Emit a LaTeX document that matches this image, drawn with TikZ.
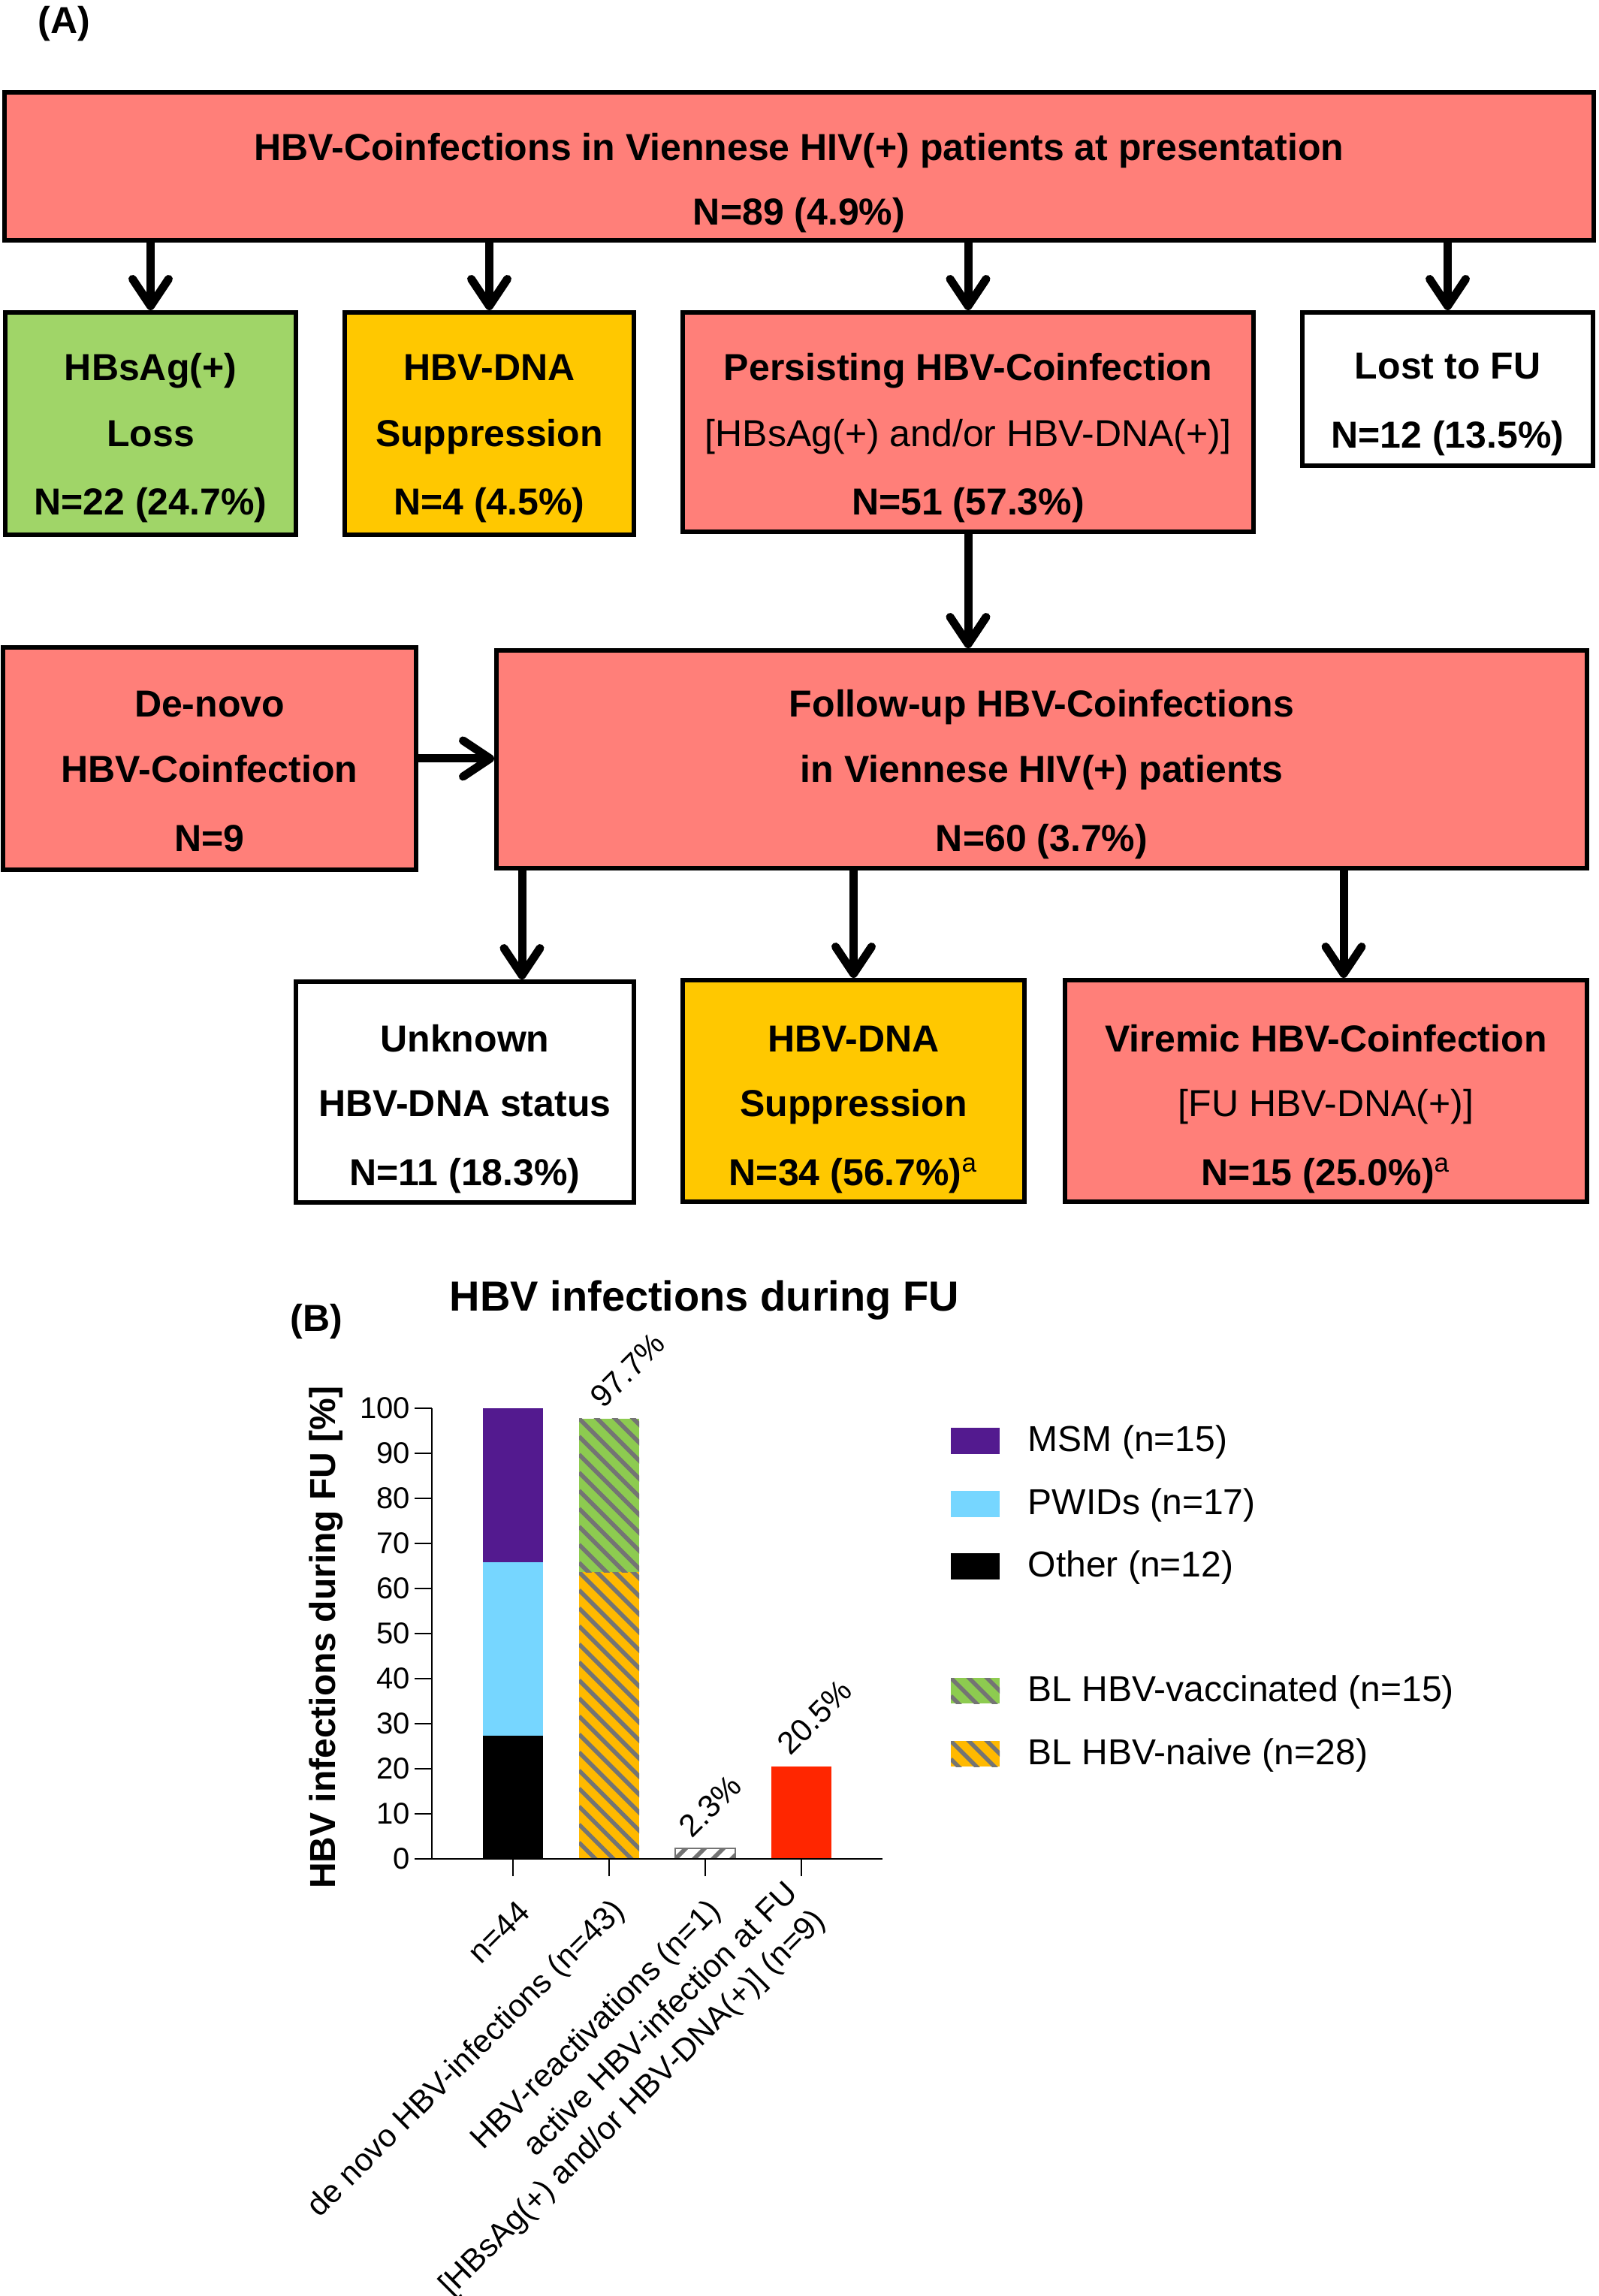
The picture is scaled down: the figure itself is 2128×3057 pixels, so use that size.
\documentclass[tikz,border=0pt]{standalone}
\usepackage{fontspec}
\setmainfont{Liberation Sans}
\usetikzlibrary{arrows.meta}
\definecolor{boxred}{HTML}{FF7F79}
\definecolor{boxgreen}{HTML}{A0D568}
\definecolor{boxyellow}{HTML}{FFC800}
\definecolor{msm}{HTML}{531A8F}
\definecolor{pwid}{HTML}{76D6FF}
\definecolor{vacc}{HTML}{8DCB50}
\definecolor{naive}{HTML}{FFB900}
\definecolor{barred}{HTML}{FF2600}
\definecolor{hatchgray}{HTML}{747474}
\newcommand\hatchdown[5]{%
  \begin{scope}
  \clip (#1,#2) rectangle (#3,#4);
  \fill[#5] (#1,#2) rectangle (#3,#4);
  \foreach \k in {-12,...,30} \draw[hatchgray, line width=1.4pt] (#1,{#2+\k*24}) -- ++(300,300);
  \end{scope}}
\begin{document}
\begin{tikzpicture}[x=0.25pt,y=-0.25pt,
  box/.style={draw=black, line width=1.5pt, inner sep=0pt},
  bt/.style={anchor=base, inner sep=0pt, font=\fontsize{12.5}{15}\selectfont\bfseries},
  rt/.style={anchor=base, inner sep=0pt, font=\fontsize{12.5}{15}\selectfont},
  arr/.style={line width=2.75pt, -{Straight Barb[length=9pt,width=12pt,round]}},
  panel/.style={anchor=west, inner sep=0pt, font=\fontsize{12.5}{15}\selectfont\bfseries},
  axline/.style={line width=0.6pt},
  ticklab/.style={anchor=east, inner sep=0pt, font=\fontsize{10}{12}\selectfont},
  pct/.style={rotate=45, anchor=south west, inner sep=0pt, font=\fontsize{10.5}{12}\selectfont},
  xlab/.style={rotate=45, anchor=east, align=right, inner sep=0pt, font=\fontsize{10.6}{13}\selectfont},
  legtext/.style={anchor=west, inner sep=0pt, font=\fontsize{12}{14}\selectfont}]
\useasboundingbox (0,0) rectangle (2128,3057);

% ---------------- Panel A ----------------
\node[panel] (labA) at (50,32) {(A)};

\node[box, fill=boxred, minimum width=529pt, minimum height=49.25pt] (top) at (1064,221.5) {};
\node[bt] (top1) at (1064,214) {HBV-Coinfections in Viennese HIV(+) patients at presentation};
\node[bt] (top2) at (1064,300) {N=89 (4.9\%)};

\node[box, fill=boxgreen, minimum width=96.75pt, minimum height=74pt] (hbs) at (200.5,564) {};
\node[bt] (hbs1) at (200.5,507) {HBsAg(+)};
\node[bt] (hbs2) at (200.5,595) {Loss};
\node[bt] (hbs3) at (200.5,686) {N=22 (24.7\%)};

\node[box, fill=boxyellow, minimum width=96.25pt, minimum height=74pt] (supA) at (651.5,564) {};
\node[bt] (supA1) at (651.5,507) {HBV-DNA};
\node[bt] (supA2) at (651.5,595) {Suppression};
\node[bt] (supA3) at (651.5,686) {N=4 (4.5\%)};

\node[box, fill=boxred, minimum width=190pt, minimum height=73pt] (pers) at (1289,562) {};
\node[bt] (pers1) at (1289,507) {Persisting HBV-Coinfection};
\node[rt] (pers2) at (1289,595) {[HBsAg(+) and/or HBV-DNA(+)]};
\node[bt] (pers3) at (1289,686) {N=51 (57.3\%)};

\node[box, fill=white, minimum width=96.75pt, minimum height=51pt] (lost) at (1927.5,518) {};
\node[bt] (lost1) at (1927.5,505) {Lost to FU};
\node[bt] (lost2) at (1927.5,597) {N=12 (13.5\%)};

\node[box, fill=boxred, minimum width=137.5pt, minimum height=74pt] (denovo) at (279,1010) {};
\node[bt] (den1) at (279,955) {De-novo};
\node[bt] (den2) at (279,1042) {HBV-Coinfection};
\node[bt] (den3) at (279,1134) {N=9};

\node[box, fill=boxred, minimum width=363pt, minimum height=72.5pt] (fu) at (1387,1011) {};
\node[bt] (fu1) at (1387,955) {Follow-up HBV-Coinfections};
\node[bt] (fu2) at (1387,1042) {in Viennese HIV(+) patients};
\node[bt] (fu3) at (1387,1134) {N=60 (3.7\%)};

\node[box, fill=white, minimum width=112.5pt, minimum height=73.5pt] (unk) at (619,1454) {};
\node[bt] (unk1) at (619,1400) {Unknown};
\node[bt] (unk2) at (619,1486) {HBV-DNA status};
\node[bt] (unk3) at (619,1578) {N=11 (18.3\%)};

\node[box, fill=boxyellow, minimum width=113.75pt, minimum height=73.75pt] (supB) at (1136.5,1452.5) {};
\node[bt] (supB1) at (1136.5,1400) {HBV-DNA};
\node[bt] (supB2) at (1136.5,1486) {Suppression};
\node[bt] (supB3) at (1136.5,1578) {N=34 (56.7\%)\textsuperscript{\mdseries a}};

\node[box, fill=boxred, minimum width=173.75pt, minimum height=73.75pt] (vir) at (1765.5,1452.5) {};
\node[bt] (vir1) at (1765.5,1400) {Viremic HBV-Coinfection};
\node[rt] (vir2) at (1765.5,1486) {[FU HBV-DNA(+)]};
\node[bt] (vir3) at (1765.5,1578) {N=15 (25.0\%)\textsuperscript{\mdseries a}};

\coordinate (c1) at (695,0);
\coordinate (c3) at (1789,0);
\draw[arr] (top.south -| hbs.north) -- (hbs.north);
\draw[arr] (top.south -| supA.north) -- (supA.north);
\draw[arr] (top.south -| pers.north) -- (pers.north);
\draw[arr] (top.south -| lost.north) -- (lost.north);
\draw[arr] (pers.south) -- (pers.south |- fu.north);
\draw[arr] (denovo.east) -- (denovo.east -| fu.west);
\draw[arr] (fu.south -| c1) -- (unk.north -| c1);
\draw[arr] (fu.south -| supB.north) -- (supB.north);
\draw[arr] (fu.south -| c3) -- (vir.north -| c3);

% ---------------- Panel B ----------------
\node[panel] (labB) at (386,1760) {(B)};
\node[anchor=base, inner sep=0pt, font=\fontsize{14}{16}\selectfont\bfseries] (title) at (938,1745) {HBV infections during FU};
\node[rotate=90, inner sep=0pt, font=\fontsize{12}{14}\selectfont\bfseries] (ylab) at (434,2180) {HBV infections during FU [\%]};

% bar 1
\fill[black] (643,2475) rectangle (723,2311.4);
\fill[pwid] (643,2311.4) rectangle (723,2079.5);
\fill[msm] (643,2079.5) rectangle (723,1875);
% bar 2
\hatchdown{771}{2093.2}{851}{2475}{naive}
\hatchdown{771}{1888.6}{851}{2093.2}{vacc}
% bar 3
\begin{scope}
\clip (899,2461.4) rectangle (979,2475);
\foreach \k in {0,...,8} \draw[hatchgray, line width=1.4pt] ({899+\k*25-20},2495) -- ++(40,-40);
\end{scope}
\draw[hatchgray, line width=0.5pt] (899,2475) rectangle (979,2461.4);
% bar 4
\fill[barred] (1027,2475) rectangle (1107,2352.3);

% axes
\draw[axline] (575,1875) -- (575,2475);
\draw[axline] (552,2475) -- (1175,2475);
\foreach \v in {0,10,...,100} {
  \draw[axline] (552,{2475-6*\v}) -- (575,{2475-6*\v});
  \node[ticklab] (yt\v) at (547,{2475-6*\v}) {\v};
}
\foreach \x in {683,811,939,1067} \draw[axline] (\x,2475) -- (\x,2498);

% value labels
\node[pct] (p2) at (804,1878) {97.7\%};
\node[pct] (p3) at (922,2450) {2.3\%};
\node[pct] (p4) at (1053,2340) {20.5\%};

% x labels
\node[xlab] (xl1) at (698,2538) {n=44};
\node[xlab] (xl2) at (826,2538) {de novo HBV-infections (n=43)};
\node[xlab] (xl3) at (954,2538) {HBV-reactivations (n=1)};
\node[xlab] (xl4) at (1075,2533) {active HBV-infection at FU\\{}[HBsAg(+) and/or HBV-DNA(+)] (n=9)};

% legend
\fill[msm] (1266,1901) rectangle (1331,1936);
\fill[pwid] (1266,1985) rectangle (1331,2020);
\fill[black] (1266,2068) rectangle (1331,2103);
\hatchdown{1266}{2234}{1331}{2268}{vacc}
\hatchdown{1266}{2318}{1331}{2352}{naive}
\node[legtext] (lg1) at (1368,1920) {MSM (n=15)};
\node[legtext] (lg2) at (1368,2004) {PWIDs (n=17)};
\node[legtext] (lg3) at (1368,2087) {Other (n=12)};
\node[legtext] (lg4) at (1368,2253) {BL HBV-vaccinated (n=15)};
\node[legtext] (lg5) at (1368,2337) {BL HBV-naive (n=28)};
\end{tikzpicture}
\end{document}
